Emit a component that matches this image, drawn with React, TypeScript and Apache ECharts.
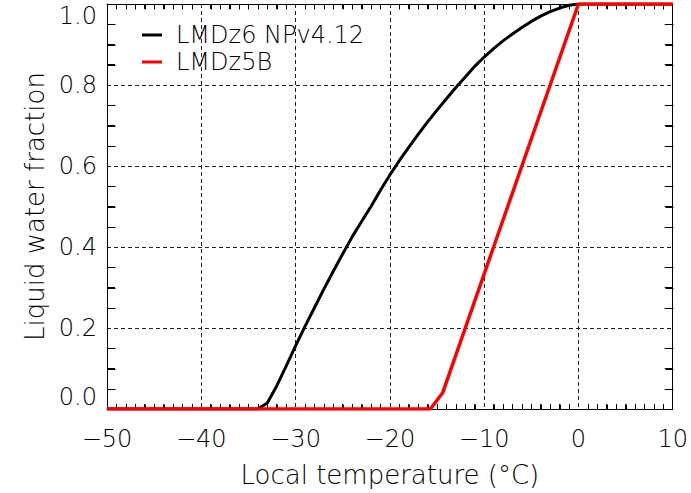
import React, { useEffect, useRef } from "react";
import * as echarts from "echarts";

const seriesNames = ["LMDz6 NPv4.12", "LMDz5B"];
const blackTemp = [-50, -34, -33, -32, -31, -30, -29, -28, -27, -26, -25, -24, -23, -22, -21, -20, -19, -18, -17, -16, -15, -14, -13, -12, -11, -10, -9, -8, -7, -6, -5, -4, -3, -2, -1, 0, 10];
const blackFrac = [0, 0, 0.015, 0.057, 0.106, 0.156, 0.204, 0.25, 0.296, 0.34, 0.383, 0.425, 0.463, 0.5, 0.54, 0.578, 0.613, 0.646, 0.678, 0.709, 0.738, 0.766, 0.794, 0.82, 0.846, 0.869, 0.89, 0.909, 0.926, 0.942, 0.957, 0.97, 0.981, 0.99, 0.997, 1, 1];
const redTemp = [-50, -15.7, -14.4, -12, -9, -6, -3, 0, 10];
const redFrac = [0, 0, 0.04, 0.2, 0.4, 0.6, 0.8, 1, 1];
const xTitle = "Local temperature (\u00B0C)";
const yTitle = "Liquid water fraction";

// axis settings
const X_MIN = -50;
const X_MAX = 10;
const X_MAJOR = 10;
const X_MINOR_SPLIT = 10;
const Y_MIN = 0;
const Y_MAX = 1;
const Y_MAJOR = 0.2;
const Y_MINOR_SPLIT = 4;

const FONT = "DejaVu Sans";

// minor tick positions derived from the axis settings (fallback frame ticks)
function minorTickValues(min: number, max: number, major: number, split: number) {
  const out: number[] = [];
  const step = major / split;
  const n = Math.round((max - min) / step);
  for (let i = 1; i < n; i++) {
    if (i % split === 0) continue;
    out.push(+(min + i * step).toFixed(6));
  }
  return out;
}

const mkLine = () => ({ show: true, onZero: false, lineStyle: { color: "#000" } });
const mkTick = () => ({ show: false, inside: true });
const mkGrid = () => ({ show: true, lineStyle: { color: "#222", width: 1, type: [4, 3] as any } });
const mkText = () => ({ fontFamily: FONT, fontSize: 24, color: "#000", fontWeight: 200 as any });
const mkXMinor = () => ({ show: true, splitNumber: X_MINOR_SPLIT, length: 5, lineStyle: { color: "#000", width: 1 } });
const mkYMinor = () => ({ show: true, splitNumber: Y_MINOR_SPLIT, length: 8, lineStyle: { color: "#000", width: 1 } });

export default function App() {
  const ref = useRef<HTMLDivElement>(null);
  useEffect(() => {
    if (!ref.current) return;
    const chart = echarts.init(ref.current, undefined, { renderer: "svg" });

    const xMinorVals = minorTickValues(X_MIN, X_MAX, X_MAJOR, X_MINOR_SPLIT);
    const yMinorVals = minorTickValues(Y_MIN, Y_MAX, Y_MAJOR, Y_MINOR_SPLIT);
    const tickData: number[][] = [];
    xMinorVals.forEach((v) => {
      tickData.push([v, Y_MIN, 0, -5]);
      tickData.push([v, Y_MAX, 0, 5]);
    });
    yMinorVals.forEach((v) => {
      tickData.push([X_MIN, v, 8, 0]);
      tickData.push([X_MAX, v, -8, 0]);
    });

    chart.setOption({
      animation: false,
      grid: { left: 107, top: 4, right: 15, bottom: 84 },
      legend: {
        left: 137,
        top: 18,
        orient: "vertical",
        icon: "rect",
        itemWidth: 20,
        itemHeight: 3,
        itemGap: 3,
        data: seriesNames,
        textStyle: { ...mkText(), lineHeight: 24, padding: [0, 0, 0, 9] },
      },
      xAxis: [
        {
          type: "value",
          position: "bottom",
          min: X_MIN,
          max: X_MAX,
          interval: X_MAJOR,
          axisLine: mkLine(),
          axisTick: mkTick(),
          minorTick: mkXMinor(),
          splitLine: mkGrid(),
          axisLabel: {
            ...mkText(),
            margin: 18,
            formatter: (v: number) => (v < 0 ? "\u2212" + Math.abs(v) : String(v)),
          },
          name: xTitle,
          nameLocation: "middle",
          nameGap: 53,
          nameTextStyle: { ...mkText(), fontSize: 26 },
        },
        {
          type: "value",
          position: "top",
          min: X_MIN,
          max: X_MAX,
          interval: X_MAJOR,
          axisLine: mkLine(),
          axisTick: mkTick(),
          minorTick: mkXMinor(),
          splitLine: { show: false },
          axisLabel: { show: false },
        },
      ],
      yAxis: [
        {
          type: "value",
          position: "left",
          min: Y_MIN,
          max: Y_MAX,
          interval: Y_MAJOR,
          axisLine: mkLine(),
          axisTick: mkTick(),
          minorTick: mkYMinor(),
          splitLine: mkGrid(),
          axisLabel: {
            ...mkText(),
            margin: 10,
            formatter: (v: number) => v.toFixed(1),
            verticalAlignMinLabel: "bottom",
            verticalAlignMaxLabel: "top",
          },
          name: yTitle,
          nameLocation: "middle",
          nameGap: 58,
          nameTextStyle: { ...mkText(), fontSize: 26 },
        },
        {
          type: "value",
          position: "right",
          min: Y_MIN,
          max: Y_MAX,
          interval: Y_MAJOR,
          axisLine: mkLine(),
          axisTick: mkTick(),
          minorTick: mkYMinor(),
          splitLine: { show: false },
          axisLabel: { show: false },
        },
      ],
      series: [
        {
          name: "frame ticks",
          type: "custom",
          xAxisIndex: 0,
          yAxisIndex: 0,
          silent: true,
          clip: false,
          data: tickData,
          renderItem: (_params: any, api: any) => {
            const p = api.coord([api.value(0), api.value(1)]);
            const x = Math.round(p[0]) + 0.5;
            const y = Math.round(p[1]) + 0.5;
            return {
              type: "line",
              shape: { x1: x, y1: y, x2: x + api.value(2), y2: y + api.value(3) },
              style: { stroke: "#000", lineWidth: 1 },
            };
          },
          z: 1,
        },
        {
          name: seriesNames[0],
          type: "line",
          xAxisIndex: 0,
          yAxisIndex: 0,
          data: blackTemp.map((t, i) => [t, blackFrac[i]]),
          showSymbol: false,
          lineStyle: { color: "#000", width: 3 },
          itemStyle: { color: "#000" },
          z: 3,
        },
        {
          name: seriesNames[1],
          type: "line",
          xAxisIndex: 0,
          yAxisIndex: 0,
          data: redTemp.map((t, i) => [t, redFrac[i]]),
          showSymbol: false,
          lineStyle: { color: "#ff0000", width: 3.5 },
          itemStyle: { color: "#ff0000" },
          z: 4,
        },
      ],
    });
    return () => chart.dispose();
  }, []);
  return <div ref={ref} style={{ position: "absolute", left: 0, top: 0, width: 691, height: 493 }} />;
}
